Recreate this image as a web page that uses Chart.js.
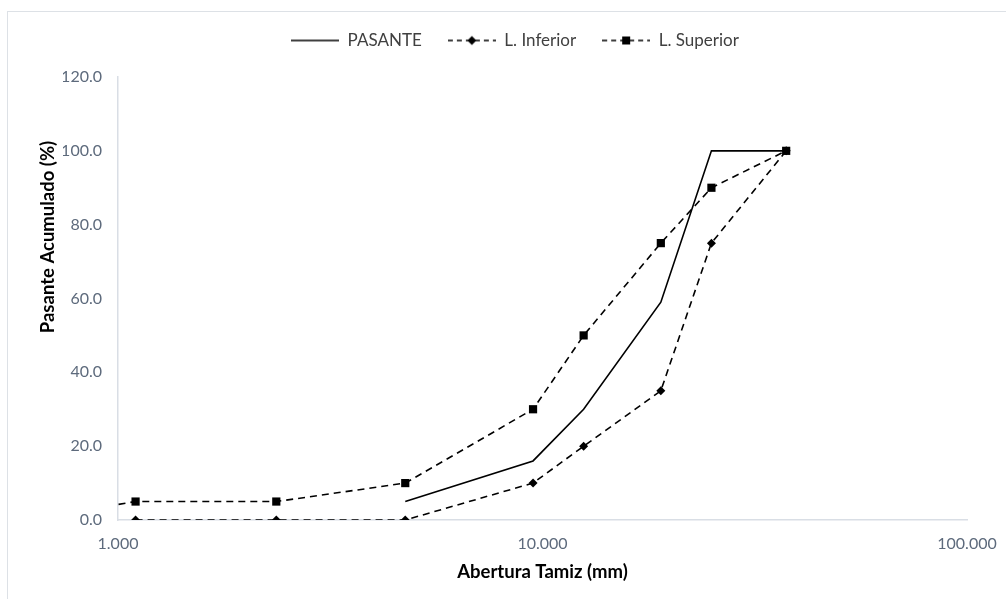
<!DOCTYPE html>
<html lang="es">
<head>
  <meta charset="UTF-8">
  <script src="https://cdn.jsdelivr.net/npm/chart.js"></script>
  <title>Curva granulométrica</title>
  <style>
    html, body {margin: 0; padding: 0; background: #fff; overflow: hidden;}
    #wrap {position: relative; width: 1006px; height: 599px;}
    #frame {position: absolute; left: 7px; top: 11px; width: 1010px; height: 600px; border: 1px solid #dde1e6; box-sizing: border-box;}
    canvas {position: absolute; left: 0; top: 0;}
  </style>
</head>
<body>
  <div id="wrap">
    <div id="frame"></div>
    <canvas id="myChart" width="1006" height="599"></canvas>
  </div>
  <script>
    // abertura de tamices (mm) y porcentajes
    const tamizPasante = [4.75, 9.5, 12.5, 19, 25, 37.5];
    const pasante = [5, 16, 30, 59, 100, 100];

    const tamizInferior = [1.1, 2.36, 4.75, 9.5, 12.5, 19, 25, 37.5];
    const limInferior = [0, 0, 0, 10, 20, 35, 75, 100];

    const tamizSuperior = [0.6, 1.1, 2.36, 4.75, 9.5, 12.5, 19, 25, 37.5];
    const limSuperior = [0, 5, 5, 10, 30, 50, 75, 90, 100];

    const xTicks = [1, 10, 100];
    const yTicks = [0, 20, 40, 60, 80, 100, 120];

    const seriesNames = ['PASANTE', 'L. Inferior', 'L. Superior'];
    const yTitle = 'Pasante Acumulado (%)';
    const xTitle = 'Abertura Tamiz (mm)';

    function toPoints(xs, ys) {
      return xs.map(function(x, i){ return {x: x, y: ys[i]}; });
    }

    // icono de leyenda: linea + marcador
    function legendIcon(dash, marker) {
      const c = document.createElement('canvas');
      c.width = 48; c.height = 12;
      const g = c.getContext('2d');
      g.strokeStyle = '#000';
      g.lineWidth = 1.5;
      g.setLineDash(dash);
      g.beginPath();
      g.moveTo(0, 6); g.lineTo(48, 6);
      g.stroke();
      g.fillStyle = '#000';
      if (marker == 'rect') {
        g.fillRect(20, 2, 8, 8);
      } else if (marker == 'diamond') {
        g.beginPath();
        g.moveTo(24, 1.5); g.lineTo(28.5, 6); g.lineTo(24, 10.5); g.lineTo(19.5, 6);
        g.closePath(); g.fill();
      }
      return c;
    }

    const icons = [
      legendIcon([], null),
      legendIcon([5, 4], 'diamond'),
      legendIcon([5, 4], 'rect')
    ];

    const tickColor = '#5d6a7c';
    const axisColor = '#d9dee5';
    const titleFont = 'bold 18.5px Lato';

    // mas espacio debajo de la leyenda
    const legendSpace = {
      id: 'legendSpace',
      afterInit: function(chart){
        const lg = chart.legend;
        const fit = lg.fit;
        lg.fit = function(){
          fit.call(this);
          this.height += 18;
        };
      }
    };

    // titulo del eje Y (desplazado hacia arriba como en el original)
    const yTitlePlugin = {
      id: 'yTitlePlugin',
      afterDraw: function(chart){
        const c = chart.ctx;
        c.save();
        c.translate(48, 237);
        c.rotate(-Math.PI / 2);
        c.font = titleFont;
        c.fillStyle = '#000';
        c.textAlign = 'center';
        c.textBaseline = 'middle';
        c.fillText(yTitle, 0, 0);
        c.restore();
      }
    };

    const ctx = document.getElementById('myChart');

    new Chart(ctx, {
      type: 'line',
      data: {
        datasets: [{
          label: seriesNames[0],
          data: toPoints(tamizPasante, pasante),
          borderColor: '#000',
          borderWidth: 1.6,
          pointRadius: 0,
          tension: 0
        }, {
          label: seriesNames[1],
          data: toPoints(tamizInferior, limInferior),
          borderColor: '#000',
          backgroundColor: '#000',
          borderWidth: 1.6,
          borderDash: [7, 5],
          pointStyle: 'rectRot',
          pointRadius: 4.5,
          pointBorderWidth: 0,
          tension: 0
        }, {
          label: seriesNames[2],
          data: toPoints(tamizSuperior, limSuperior),
          borderColor: '#000',
          backgroundColor: '#000',
          borderWidth: 1.6,
          borderDash: [7, 5],
          pointStyle: 'rect',
          pointRadius: 5.8,
          pointBorderWidth: 0,
          tension: 0
        }]
      },
      plugins: [legendSpace, yTitlePlugin],
      options: {
        responsive: false,
        animation: false,
        layout: {padding: {top: 6, left: 63, right: 39, bottom: 10}},
        plugins: {
          tooltip: {enabled: false},
          legend: {
            position: 'top',
            labels: {
              usePointStyle: true,
              pointStyleWidth: 48,
              padding: 26,
              color: '#404040',
              font: {family: 'Lato', size: 17},
              generateLabels: function(chart){
                return seriesNames.map(function(name, i){
                  return {text: name, pointStyle: icons[i], fontColor: '#404040', lineWidth: 0, strokeStyle: 'rgba(0,0,0,0)', fillStyle: 'rgba(0,0,0,0)', datasetIndex: i};
                });
              }
            }
          }
        },
        scales: {
          x: {
            type: 'logarithmic',
            min: 1,
            max: 100,
            grid: {display: false, drawTicks: false},
            border: {display: true, color: axisColor, width: 1.5},
            afterBuildTicks: function(scale){
              scale.ticks = xTicks.map(function(v){ return {value: v}; });
            },
            ticks: {
              color: tickColor,
              padding: 14,
              maxRotation: 0,
              font: {family: 'Lato', size: 16},
              callback: function(v){ return Number(v).toFixed(3); }
            },
            title: {
              display: true,
              text: xTitle,
              color: '#000',
              font: {family: 'Lato', size: 18.5, weight: 'bold'},
              padding: {top: 4, bottom: 6}
            },
            afterFit: function(scale){
              scale.height = 69;
              scale.paddingLeft = 0;
              scale.paddingRight = 0;
            }
          },
          y: {
            min: 0,
            max: 120,
            grid: {display: false, drawTicks: false},
            border: {display: true, color: axisColor, width: 1.5},
            afterBuildTicks: function(scale){
              scale.ticks = yTicks.map(function(v){ return {value: v}; });
            },
            ticks: {
              color: tickColor,
              padding: 16,
              font: {family: 'Lato', size: 16},
              callback: function(v){ return Number(v).toFixed(1); }
            },
            afterFit: function(scale){ scale.width = 55; }
          }
        }
      }
    });
  </script>
</body>
</html>
